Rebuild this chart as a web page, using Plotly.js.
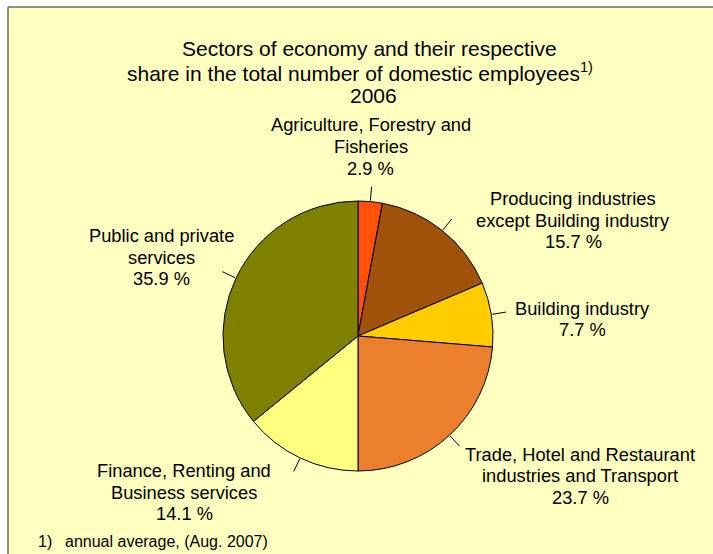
<!DOCTYPE html>
<html>
<head>
<meta charset="utf-8">
<script src="https://cdn.plot.ly/plotly-3.0.1.min.js"></script>
<style>
  html, body { margin: 0; padding: 0; background: #ffffff; }
  #chart { width: 713px; height: 554px; }
</style>
</head>
<body>
<div id="chart"></div>
<script>
// ---- data ----
const categories = [
  "Agriculture, Forestry and\nFisheries",
  "Producing industries\nexcept Building industry",
  "Building industry",
  "Trade, Hotel and Restaurant\nindustries and Transport",
  "Finance, Renting and\nBusiness services",
  "Public and private\nservices"
];
const shares = [2.9, 15.7, 7.7, 23.7, 14.1, 35.9];
const sliceColors = ["#FF5208", "#A0520A", "#FFCC00", "#EC7F2C", "#FFFF80", "#808000"];
const titleLines = [
  "Sectors of economy and their respective",
  "share in the total number of domestic employees<sup>1)</sup>",
  "2006"
];
const footnoteMark = "1)";
const footnoteText = "annual average, (Aug. 2007)";

// ---- layout constants (pixels) ----
const W = 713, H = 554;
const cx = 358, cy = 336, R = 135;
const fontFam = "Liberation Sans, Arial, sans-serif";
// title line centres (x, y)
const titlePos = [[369, 48.5], [360, 71.5], [373, 95]];
// label block anchor (x centre, y of first line centre) and line step, in pixels
const labelAnchor = [[371, 125], [573, 198.5], [582, 308], [580, 454], [184, 470.5], [161, 235.5]];
const labelStep = 21.7;

const px = x => x / W;
const py = y => 1 - y / H;

const total = shares.reduce((a, b) => a + b, 0);

const trace = {
  type: "pie",
  labels: categories.map(c => c.replace("\n", " ")),
  values: shares,
  sort: false,
  direction: "clockwise",
  rotation: 0,
  textinfo: "none",
  hoverinfo: "none",
  marker: { colors: sliceColors, line: { color: "#000000", width: 1 } },
  domain: { x: [px(cx - R), px(cx + R)], y: [py(cy + R), py(cy - R)] },
  showlegend: false
};

const shapes = [
  // white outside the frame
  { type: "rect", xref: "paper", yref: "paper", x0: 0, x1: 1, y0: py(7), y1: 1,
    fillcolor: "#ffffff", line: { width: 0 } },
  { type: "rect", xref: "paper", yref: "paper", x0: 0, x1: px(8), y0: 0, y1: 1,
    fillcolor: "#ffffff", line: { width: 0 } },
  // frame border
  { type: "line", xref: "paper", yref: "paper", x0: px(8), x1: 1, y0: py(7), y1: py(7),
    line: { color: "#6e6e66", width: 1.5 } },
  { type: "line", xref: "paper", yref: "paper", x0: px(8), x1: px(8), y0: py(7), y1: 0,
    line: { color: "#6e6e66", width: 1.5 } }
];

const annotations = [];
// title lines
titleLines.forEach((t, i) => {
  annotations.push({ text: t, xref: "paper", yref: "paper",
    x: px(titlePos[i][0]), y: py(titlePos[i][1]),
    xanchor: "center", yanchor: "middle", showarrow: false,
    font: { family: fontFam, size: 21, color: "#000000" } });
});

// leader lines + labels derived from the data
let cum = 0;
shares.forEach((v, i) => {
  const mid = (cum + v / 2) / total * 2 * Math.PI;
  cum += v;
  const sx = Math.sin(mid), sy = -Math.cos(mid);
  shapes.push({ type: "line", xref: "paper", yref: "paper",
    x0: px(cx + (R + 1) * sx), y0: py(cy + (R + 1) * sy),
    x1: px(cx + (R + 15) * sx), y1: py(cy + (R + 15) * sy),
    line: { color: "#000000", width: 1 } });
  const lines = categories[i].split("\n").concat([v.toFixed(1) + " %"]);
  lines.forEach((ln, k) => {
    annotations.push({ text: ln, xref: "paper", yref: "paper",
      x: px(labelAnchor[i][0]), y: py(labelAnchor[i][1] + k * labelStep),
      xanchor: "center", yanchor: "middle", showarrow: false,
      font: { family: fontFam, size: 18.3, color: "#000000" } });
  });
});

// footnote
annotations.push({ text: footnoteMark, xref: "paper", yref: "paper", x: px(36), y: py(541),
  xanchor: "left", yanchor: "middle", showarrow: false,
  font: { family: fontFam, size: 16, color: "#000000" } });
annotations.push({ text: footnoteText, xref: "paper", yref: "paper", x: px(63), y: py(541),
  xanchor: "left", yanchor: "middle", showarrow: false,
  font: { family: fontFam, size: 16, color: "#000000" } });

const layout = {
  width: W, height: H,
  margin: { l: 0, r: 0, t: 0, b: 0, pad: 0 },
  paper_bgcolor: "#FFFFC0",
  plot_bgcolor: "#FFFFC0",
  showlegend: false,
  shapes: shapes,
  annotations: annotations
};

Plotly.newPlot("chart", [trace], layout, { displayModeBar: false, staticPlot: true });
</script>
</body>
</html>
